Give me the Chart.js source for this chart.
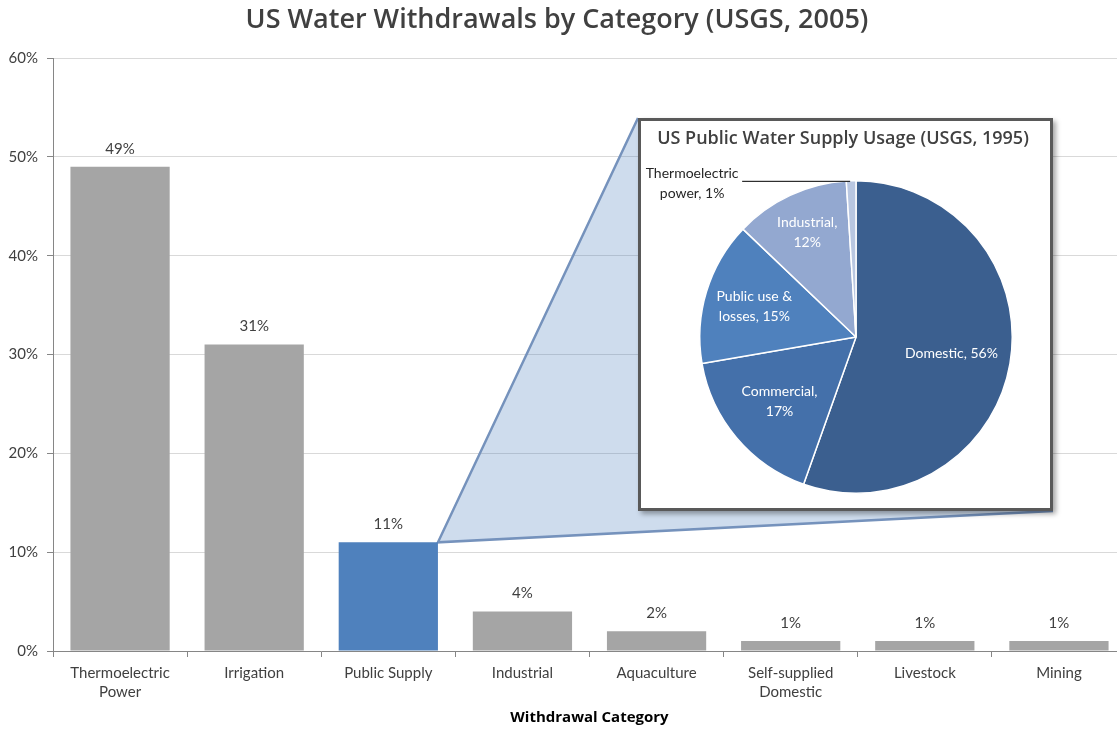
<!DOCTYPE html>
<html lang="en">
<head>
  <meta charset="UTF-8">
  <title>US Water Withdrawals by Category</title>
  <style>
    body { margin: 0; background: #fff; overflow: hidden; }
    #wrap { position: relative; width: 1117px; height: 729px; overflow: hidden; }
    #barChart { position: absolute; left: 0; top: 0; }
    #inset {
      position: absolute;
      left: 638px; top: 118px;
      width: 409px; height: 387px;
      border: 3px solid #595959;
      background: #fff;
      box-shadow: 3px 3px 5px rgba(0,0,0,0.35);
    }
  </style>
  <script src="https://cdn.jsdelivr.net/npm/chart.js"></script>
</head>
<body>
<div id="wrap">
  <!-- plot runs a little past the right edge, as in the original -->
  <canvas id="barChart" width="1126" height="729"></canvas>
  <div id="inset"><canvas id="pieChart" width="409" height="387"></canvas></div>
</div>

<script>
  // bar chart data (USGS 2005)
  const categories  = [['Thermoelectric', 'Power'], 'Irrigation', 'Public Supply', 'Industrial',
                       'Aquaculture', ['Self-supplied', 'Domestic'], 'Livestock', 'Mining'];
  const withdrawals = [49, 31, 11, 4, 2, 1, 1, 1];
  const yTicks      = [0, 10, 20, 30, 40, 50, 60];

  // pie data (USGS 1995 public supply)
  const pieLabels = ['Domestic', 'Commercial', 'Public use & losses', 'Industrial', 'Thermoelectric power'];
  const pieValues = [56, 17, 15, 12, 1];
  const pieLabelLines = [['Domestic, 56%'], ['Commercial,', '17%'], ['Public use &', 'losses, 15%'],
                         ['Industrial,', '12%'], ['Thermoelectric', 'power, 1%']];

  const highlight = 2; // Public Supply
  const pieColors = ['#3B5F8F', '#4470AA', '#4F81BD', '#93A8D0', '#B9C7E1'];
  const labelRadius = [0.62, 0.64, 0.68, 0.74];
  const INSET = { left: 638, top: 118, w: 415, h: 393 };

  // title drawn at a fixed spot (plot area is wider than the visible page)
  const fixedTitle = {
    id: 'fixedTitle',
    afterDraw(chart, args, o) {
      const ctx = chart.ctx;
      ctx.save();
      ctx.font = o.font;
      ctx.fillStyle = o.color;
      ctx.textAlign = 'center';
      ctx.textBaseline = 'middle';
      ctx.fillText(o.text, o.x, o.y);
      ctx.restore();
    }
  };

  // light-blue wedge from the Public Supply bar to the inset box
  const zoomWedge = {
    id: 'zoomWedge',
    beforeDatasetsDraw(chart) {
      const bar = chart.getDatasetMeta(0).data[highlight];
      const x0 = bar.x + bar.width / 2, y0 = bar.y;
      const ctx = chart.ctx;
      ctx.save();
      ctx.beginPath();
      ctx.moveTo(x0, y0);
      ctx.lineTo(INSET.left, INSET.top);
      ctx.lineTo(INSET.left + INSET.w, INSET.top + INSET.h);
      ctx.closePath();
      ctx.fillStyle = 'rgba(79,129,189,0.28)';
      ctx.fill();
      ctx.beginPath();
      ctx.moveTo(INSET.left, INSET.top);
      ctx.lineTo(x0, y0);
      ctx.lineTo(INSET.left + INSET.w, INSET.top + INSET.h);
      ctx.strokeStyle = '#7592BC';
      ctx.lineWidth = 2.5;
      ctx.stroke();
      ctx.restore();
    }
  };

  const barLabels = {
    id: 'barLabels',
    afterDatasetsDraw(chart) {
      const ctx = chart.ctx;
      ctx.save();
      ctx.font = '15px Lato';
      ctx.fillStyle = '#404040';
      ctx.textAlign = 'center';
      ctx.textBaseline = 'middle';
      chart.getDatasetMeta(0).data.forEach((bar, i) => {
        ctx.fillText(withdrawals[i] + '%', bar.x, bar.y - 18);
      });
      ctx.restore();
    }
  };

  new Chart(document.getElementById('barChart'), {
    type: 'bar',
    data: {
      labels: categories,
      datasets: [{
        data: withdrawals,
        backgroundColor: categories.map((c, i) => i === highlight ? '#4F81BD' : '#A5A5A5'),
        categoryPercentage: 1,
        barPercentage: 0.74
      }]
    },
    options: {
      responsive: false,
      animation: false,
      events: [],
      layout: { padding: { left: 0, right: 0, top: 58, bottom: 0 } },
      plugins: {
        legend: { display: false },
        tooltip: { enabled: false },
        title: { display: false },
        fixedTitle: {
          text: 'US Water Withdrawals by Category (USGS, 2005)',
          font: '600 27px "Open Sans"',
          color: '#404040',
          x: 557, y: 20
        }
      },
      scales: {
        x: {
          grid: { drawOnChartArea: false, tickLength: 6, tickColor: '#868686', offset: true },
          border: { color: '#868686' },
          ticks: {
            color: '#404040',
            font: { family: 'Lato', size: 15, lineHeight: 1.3 },
            padding: 6, maxRotation: 0, autoSkip: false
          },
          title: {
            display: true,
            text: 'Withdrawal Category',
            color: '#000',
            font: { family: 'Open Sans', size: 15, weight: 'bold' },
            padding: { top: 0, bottom: 2 }
          },
          afterFit(s) { s.height = 78; }
        },
        y: {
          min: yTicks[0],
          max: yTicks[yTicks.length - 1],
          afterBuildTicks(s) { s.ticks = yTicks.map(v => ({ value: v })); },
          ticks: {
            callback: v => v + '%',
            color: '#404040',
            font: { family: 'Lato', size: 15 },
            padding: 9
          },
          grid: { color: '#D9D9D9', tickColor: '#868686', tickLength: 6 },
          border: { color: '#868686' },
          afterFit(s) { s.width = 53; }
        }
      }
    },
    plugins: [zoomWedge, barLabels, fixedTitle]
  });

  // slice labels: white inside, leader line for the tiny slice
  const pieText = {
    id: 'pieText',
    afterDatasetsDraw(chart) {
      const ctx = chart.ctx;
      const arcs = chart.getDatasetMeta(0).data;
      ctx.save();
      ctx.font = '14px Lato';
      ctx.textAlign = 'center';
      ctx.textBaseline = 'middle';
      arcs.forEach((arc, i) => {
        const mid = (arc.startAngle + arc.endAngle) / 2;
        const lines = pieLabelLines[i];
        if (i < labelRadius.length) {
          const r = arc.outerRadius * labelRadius[i];
          const cx = arc.x + Math.cos(mid) * r, cy = arc.y + Math.sin(mid) * r;
          ctx.fillStyle = '#fff';
          lines.forEach((t, k) => ctx.fillText(t, cx, cy + (k - (lines.length - 1) / 2) * 20));
        } else {
          const px = arc.x + Math.cos(mid) * arc.outerRadius;
          const py = arc.y + Math.sin(mid) * arc.outerRadius;
          const lx = px - 109;
          ctx.strokeStyle = '#000';
          ctx.lineWidth = 1;
          ctx.beginPath();
          ctx.moveTo(px - 1, py + 0.5);
          ctx.lineTo(lx, py + 0.5);
          ctx.stroke();
          ctx.fillStyle = '#262626';
          ctx.fillText(lines[0], lx - 50, py - 7);
          ctx.fillText(lines[1], lx - 50, py + 13);
        }
      });
      ctx.restore();
    }
  };

  new Chart(document.getElementById('pieChart'), {
    type: 'pie',
    data: {
      labels: pieLabels,
      datasets: [{
        data: pieValues,
        backgroundColor: pieColors,
        borderColor: '#fff',
        borderWidth: 1.5
      }]
    },
    options: {
      responsive: false,
      animation: false,
      events: [],
      layout: { padding: { left: 21, right: 0, top: 59, bottom: 14 } },
      plugins: {
        legend: { display: false },
        tooltip: { enabled: false },
        title: { display: false },
        fixedTitle: {
          text: 'US Public Water Supply Usage (USGS, 1995)',
          font: '600 18px "Open Sans"',
          color: '#404040',
          x: 202, y: 18
        }
      }
    },
    plugins: [pieText, fixedTitle]
  });
</script>
</body>
</html>
